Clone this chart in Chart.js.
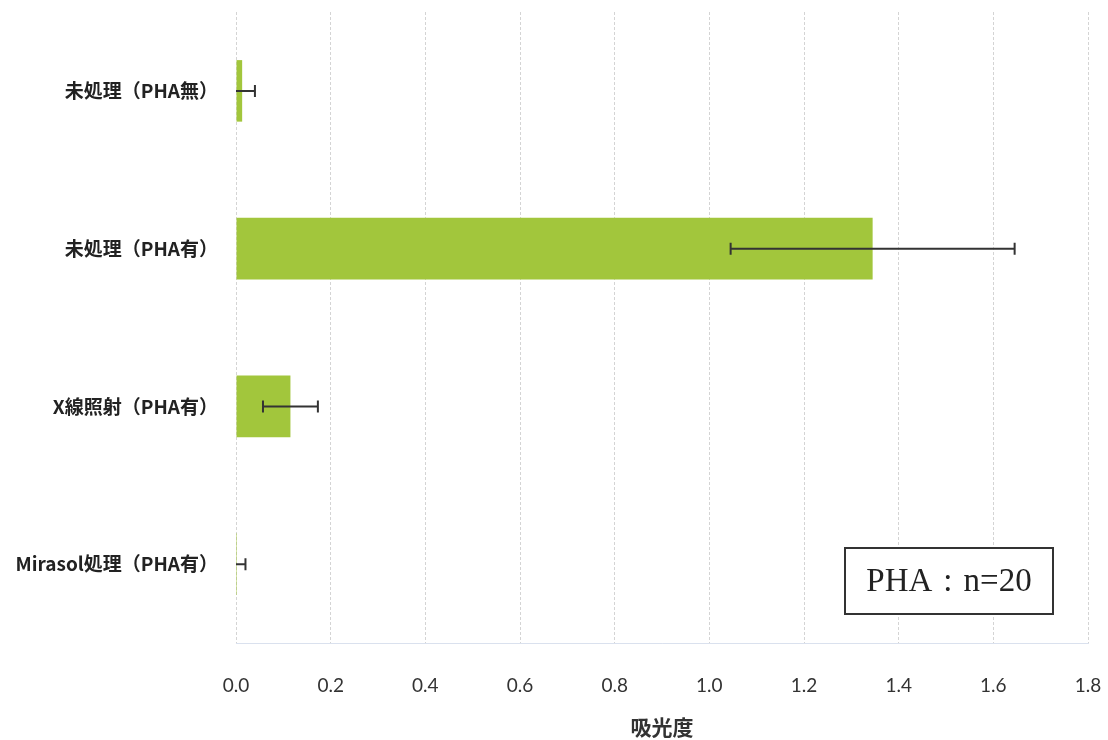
<!DOCTYPE html>
<html lang="ja">
<head>
<meta charset="utf-8">
<script src="https://cdn.jsdelivr.net/npm/chart.js@4/dist/chart.umd.min.js"></script>
<style>
  html, body { margin: 0; padding: 0; background: #fff; }
  #wrap { width: 1108px; height: 740px; position: relative; }
</style>
</head>
<body>
<div id="wrap"><canvas id="c" width="1108" height="740"></canvas></div>
<script>
// Absorbance per sample group (mean) and its standard deviation
const categories = ['未処理（PHA無）', '未処理（PHA有）', 'X線照射（PHA有）', 'Mirasol処理（PHA有）'];
const absorbance = [0.013, 1.345, 0.115, 0.002];
const stdDev = [0.027, 0.300, 0.058, 0.018];
const xTicks = [0.0, 0.2, 0.4, 0.6, 0.8, 1.0, 1.2, 1.4, 1.6, 1.8];
const axisTitle = '吸光度';
const noteText = 'PHA\u2004:\u2004n=20';

const BAR_COLOR = '#a2c63c';
const INK = '#333333';

// Symmetric error bars drawn on top of each bar
const errorBars = {
  id: 'errorBars',
  afterDatasetsDraw(chart) {
    const { ctx, chartArea, scales: { x } } = chart;
    const meta = chart.getDatasetMeta(0);
    ctx.save();
    ctx.beginPath();
    ctx.rect(chartArea.left, chartArea.top, chartArea.right - chartArea.left, chartArea.bottom - chartArea.top);
    ctx.clip();
    ctx.strokeStyle = INK;
    ctx.lineWidth = 2;
    meta.data.forEach((bar, i) => {
      const v = absorbance[i], e = stdDev[i];
      const lo = x.getPixelForValue(v - e);
      const hi = x.getPixelForValue(v + e);
      const y = bar.y;
      const cap = 6;
      ctx.beginPath();
      ctx.moveTo(lo, y); ctx.lineTo(hi, y);
      ctx.moveTo(lo, y - cap); ctx.lineTo(lo, y + cap);
      ctx.moveTo(hi, y - cap); ctx.lineTo(hi, y + cap);
      ctx.stroke();
    });
    ctx.restore();
  }
};

// Boxed note in the lower right of the plot
const noteBox = {
  id: 'noteBox',
  afterDraw(chart) {
    const { ctx, chartArea } = chart;
    const w = 208, h = 66;
    const right = chartArea.right - 35;
    const bottom = chartArea.bottom - 29;
    const left = right - w, top = bottom - h;
    ctx.save();
    ctx.fillStyle = '#fff';
    ctx.fillRect(left, top, w, h);
    ctx.strokeStyle = INK;
    ctx.lineWidth = 2;
    ctx.strokeRect(left, top, w, h);
    ctx.fillStyle = '#222';
    ctx.font = '33px "Liberation Serif", "DejaVu Serif", serif';
    ctx.textAlign = 'center';
    ctx.textBaseline = 'middle';
    ctx.fillText(noteText, left + w / 2, top + h / 2 + 1);
    ctx.restore();
  }
};

new Chart(document.getElementById('c'), {
  type: 'bar',
  data: {
    labels: categories,
    datasets: [{
      data: absorbance,
      backgroundColor: BAR_COLOR,
      borderWidth: 0,
      barPercentage: 0.39,
      categoryPercentage: 1.0
    }]
  },
  options: {
    indexAxis: 'y',
    responsive: false,
    animation: false,
    layout: { padding: { top: 12, right: 20, left: 0, bottom: 0 } },
    plugins: { legend: { display: false }, tooltip: { enabled: false } },
    scales: {
      x: {
        min: 0,
        max: 1.8,
        afterBuildTicks(scale) { scale.ticks = xTicks.map(v => ({ value: v })); },
        afterFit(scale) {
          scale.height = 97;
          scale.paddingLeft = 0;
          scale.paddingRight = 0;
        },
        grid: {
          color: 'rgba(0,0,0,0.17)',
          lineWidth: 1,
          drawTicks: false
        },
        border: { display: true, color: 'rgba(150,170,205,0.35)', dash: [3, 2] },
        ticks: {
          padding: 31,
          color: INK,
          font: { family: 'Lato, "Open Sans", sans-serif', size: 19 },
          callback: (v) => Number(v).toFixed(1)
        },
        title: {
          display: true,
          text: axisTitle,
          color: INK,
          font: { family: '"Noto Sans CJK JP", sans-serif', size: 21, weight: 'bold' },
          padding: { top: 0, bottom: 0 }
        }
      },
      y: {
        afterFit(scale) {
          scale.width = 236;
          scale.paddingTop = 0;
          scale.paddingBottom = 0;
        },
        grid: { display: false },
        border: { display: false },
        ticks: {
          padding: 10,
          color: '#222',
          font: { family: '"Noto Sans CJK JP", sans-serif', size: 19, weight: 'bold' }
        }
      }
    }
  },
  plugins: [errorBars, noteBox]
});
</script>
</body>
</html>
